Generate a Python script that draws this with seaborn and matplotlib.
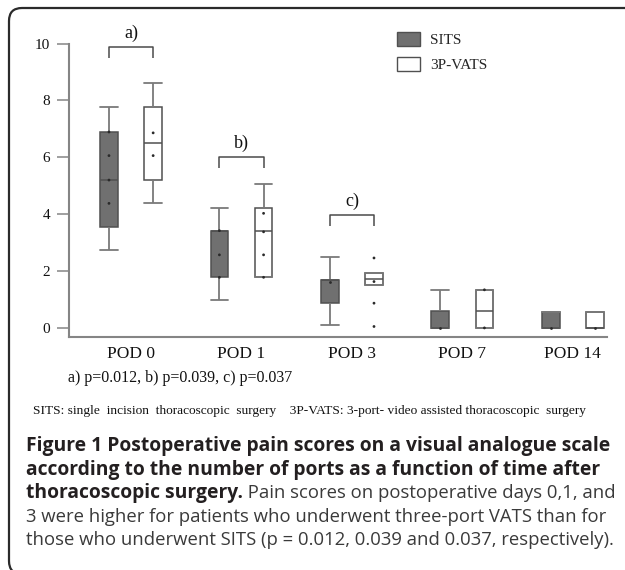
import numpy as np
import pandas as pd
import matplotlib
matplotlib.use("Agg")
import matplotlib.pyplot as plt
import seaborn as sns
from matplotlib.patches import Patch, FancyBboxPatch
from matplotlib.transforms import IdentityTransform

# ---------------- data ----------------
days = ["POD 0", "POD 1", "POD 3", "POD 7", "POD 14"]
groups = ["SITS", "3P-VATS"]

# five-number summaries: lower whisker, Q1, median, Q3, upper whisker
sits_low = [2.73, 0.97, 0.10, 0.00, 0.00]
sits_q1 = [3.54, 1.78, 0.89, 0.00, 0.00]
sits_med = [5.20, 3.42, 1.69, 0.00, 0.00]
sits_q3 = [6.89, 3.42, 1.69, 0.61, 0.55]
sits_high = [7.76, 4.23, 2.49, 1.34, 0.55]

vats_low = [4.41, 1.78, 1.51, 0.00, 0.00]
vats_q1 = [5.20, 1.78, 1.51, 0.00, 0.00]
vats_med = [6.49, 3.42, 1.72, 0.61, 0.00]
vats_q3 = [7.76, 4.23, 1.92, 1.34, 0.55]
vats_high = [8.60, 5.05, 1.92, 1.34, 0.55]

# small dots drawn on / around the boxes
dot_day = ["POD 0"] * 6 + ["POD 1"] * 7 + ["POD 3"] * 5 + ["POD 7"] * 3 + ["POD 14"] * 2
dot_group = (["SITS"] * 4 + ["3P-VATS"] * 2
             + ["SITS"] * 3 + ["3P-VATS"] * 4
             + ["SITS"] * 1 + ["3P-VATS"] * 4
             + ["SITS"] * 1 + ["3P-VATS"] * 2
             + ["SITS"] * 1 + ["3P-VATS"] * 1)
dot_value = [6.89, 6.06, 5.20, 4.38, 6.86, 6.06,
             3.42, 2.57, 1.78, 4.03, 3.38, 2.57, 1.78,
             1.63, 2.46, 1.63, 0.87, 0.05,
             0.00, 0.00, 1.34,
             0.00, 0.00]

# significance brackets
bracket_days = ["POD 0", "POD 1", "POD 3"]
bracket_labels = ["a)", "b)", "c)"]
bracket_tops = [9.89, 6.02, 3.97]

y_ticks = [0, 2, 4, 6, 8, 10]
pvalue_note = "a) p=0.012, b) p=0.039, c) p=0.037"
abbrev_note = ("SITS: single  incision  thoracoscopic  surgery    "
               "3P-VATS: 3-port- video assisted thoracoscopic  surgery")
caption_bold_1 = "Figure 1 Postoperative pain scores on a visual analogue scale"
caption_bold_2 = "according to the number of ports as a function of time after"
caption_bold_3 = "thoracoscopic surgery."
caption_reg_3 = " Pain scores on postoperative days 0,1, and"
caption_reg_4 = "3 were higher for patients who underwent three-port VATS than for"
caption_reg_5 = "those who underwent SITS (p = 0.012, 0.039 and 0.037, respectively)."

# ---------------- build tables ----------------
rows = []
for g, parts in (("SITS", (sits_low, sits_q1, sits_med, sits_q3, sits_high)),
                 ("3P-VATS", (vats_low, vats_q1, vats_med, vats_q3, vats_high))):
    for i, d in enumerate(days):
        for p in parts:
            rows.append({"day": d, "group": g, "score": p[i]})
box_df = pd.DataFrame(rows)
dot_df = pd.DataFrame({"day": dot_day, "group": dot_group, "score": dot_value})

# ---------------- figure ----------------
sns.set_style("ticks")
plt.rcParams["font.family"] = ["Liberation Serif", "DejaVu Serif"]

W, H = 625, 570
fig = plt.figure(figsize=(W / 100, H / 100), dpi=100)
ax = fig.add_axes([69 / W, 1 - 337.3 / H, (607 - 69) / W, (337.3 - 18) / H])

box_edge = "#505050"
whisk_col = "#7a7a7a"
sns.boxplot(data=box_df, x="day", y="score", hue="group", order=days,
            hue_order=groups, palette={"SITS": "#707070", "3P-VATS": "#ffffff"},
            saturation=1, width=0.8, gap=0.6, linewidth=1.1, linecolor=box_edge,
            whis=1.5, showfliers=False, legend=False, ax=ax)

# caps span the full box width, whiskers in lighter gray
for cont in ax.containers:
    boxes = list(getattr(cont, "boxes", []))
    caps = list(getattr(cont, "caps", []))
    whiskers = list(getattr(cont, "whiskers", []))
    for i, box in enumerate(boxes):
        verts = box.get_path().vertices
        x0, x1 = verts[:, 0].min(), verts[:, 0].max()
        for cap in caps[2 * i:2 * i + 2]:
            cap.set_xdata([x0, x1])
            cap.set_color(whisk_col)
            cap.set_linewidth(1.3)
    for wl in whiskers:
        wl.set_color(whisk_col)
        wl.set_linewidth(1.3)

sns.stripplot(data=dot_df, x="day", y="score", hue="group", order=days,
              hue_order=groups, dodge=True, jitter=False, size=2.0,
              palette={"SITS": "#2a2a2a", "3P-VATS": "#2a2a2a"},
              linewidth=0, legend=False, ax=ax, zorder=6)

ax.set_xlim(-0.562, 4.31)
ax.set_ylim(-0.33, 10.9)
ax.set_yticks(y_ticks)
ax.set_yticklabels([str(t) for t in y_ticks])
ax.set_xlabel("")
ax.set_ylabel("")
for s in ("top", "right"):
    ax.spines[s].set_visible(False)
ax.spines["left"].set_bounds(-0.33, 10)
for s in ("left", "bottom"):
    ax.spines[s].set_color("#858585")
    ax.spines[s].set_linewidth(1.5)
ax.tick_params(axis="y", direction="out", length=8.5, width=1.1, color="#858585",
               pad=5, labelsize=11, labelcolor="#111111")
ax.tick_params(axis="x", length=0, pad=6, labelsize=12.5, labelcolor="#111111")

# brackets
for d, lab, top in zip(bracket_days, bracket_labels, bracket_tops):
    c = days.index(d)
    xl, xr = c - 0.2, c + 0.2
    drop = 0.40
    ax.plot([xl, xl, xr, xr], [top - drop, top, top, top - drop],
            color="#4a4a4a", lw=1.1, solid_capstyle="butt", zorder=4)
    ax.text(c, top + 0.48, lab, ha="center", va="center", fontsize=13,
            color="#111111")

# legend
handles = [Patch(facecolor="#707070", edgecolor=box_edge, linewidth=1.0),
           Patch(facecolor="#ffffff", edgecolor=box_edge, linewidth=1.0)]
fig.legend(handles, groups, loc="upper left",
           bbox_to_anchor=(397 / W, 1 - 32 / H), frameon=False,
           borderpad=0, borderaxespad=0, handlelength=1.5, handleheight=1.0,
           handletextpad=0.65, labelspacing=0.66,
           prop={"family": "Liberation Serif", "size": 11})

# notes under the chart
fig.text(68 / W, 1 - 378 / H, pvalue_note, ha="left", va="center",
         fontsize=11.5, color="#111111")
fig.text(33 / W, 1 - 411 / H, abbrev_note, ha="left", va="center",
         fontsize=9.6, color="#111111")

# caption
cap_font = ["Open Sans", "DejaVu Sans"]
bold_size = 13.9
reg_size = 13.3
x_cap = 26 / W
base0 = 451
step = 23.6
bold_col = "#231f20"
reg_col = "#3a3a3a"
fig.text(x_cap, 1 - base0 / H, caption_bold_1, family=cap_font, fontweight="bold",
         fontsize=bold_size, color=bold_col, va="baseline")
fig.text(x_cap, 1 - (base0 + step) / H, caption_bold_2, family=cap_font,
         fontweight="bold", fontsize=bold_size, color=bold_col, va="baseline")
t3 = fig.text(x_cap, 1 - (base0 + 2 * step) / H, caption_bold_3, family=cap_font,
              fontweight="bold", fontsize=bold_size, color=bold_col, va="baseline")
renderer = fig.canvas.get_renderer()
bb = t3.get_window_extent(renderer=renderer)
fig.text(bb.x1 / W, 1 - (base0 + 2 * step) / H, caption_reg_3, family=cap_font,
         fontsize=reg_size, color=reg_col, va="baseline")
fig.text(x_cap, 1 - (base0 + 3 * step) / H, caption_reg_4, family=cap_font,
         fontsize=reg_size, color=reg_col, va="baseline")
fig.text(x_cap, 1 - (base0 + 4 * step) / H, caption_reg_5, family=cap_font,
         fontsize=reg_size, color=reg_col, va="baseline")

# rounded frame around the figure (right and bottom sides run off the image)
frame = FancyBboxPatch((9, -4), 680, 562 + 4, boxstyle="round,pad=0,rounding_size=13",
                       transform=IdentityTransform(), facecolor="none",
                       edgecolor="#2b2b2b", linewidth=1.6)
fig.add_artist(frame)

fig.savefig("out.png", dpi=100)
